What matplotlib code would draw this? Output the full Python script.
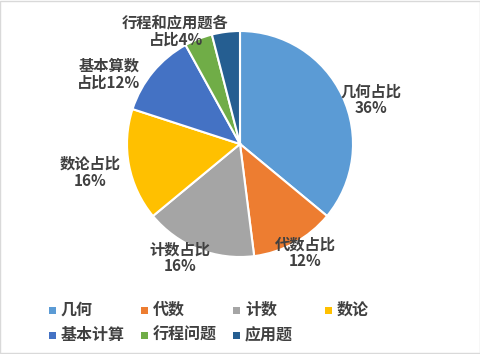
import matplotlib
matplotlib.use("Agg")
import matplotlib.pyplot as plt
from matplotlib.patches import Rectangle

plt.rcParams['font.family'] = ['Noto Sans CJK SC', 'DejaVu Sans']

# data
categories = ["几何", "代数", "计数", "数论", "基本计算", "行程问题", "应用题"]
shares = [36, 12, 16, 16, 12, 4, 4]
colors = ["#5B9BD5", "#ED7D31", "#A5A5A5", "#FFC000", "#4472C4", "#70AD47", "#255E91"]
label_texts = ["几何占比\n36%", "代数占比\n12%", "计数占比\n16%", "数论占比\n16%",
               "基本算数\n占比12%", "行程和应用题各\n占比4%"]
label_pos = [(1.16, 0.39), (0.58, -0.96), (-0.53, -1.01), (-1.33, -0.25),
             (-1.16, 0.62), (-0.57, 1.0)]

W, H = 481, 354
cx, cy, R = 240, 144, 113

fig = plt.figure(figsize=(W / 100, H / 100), dpi=100)
ax = fig.add_axes([0, 0, 1, 1])

ax.pie(shares, colors=colors, startangle=90, counterclock=False, radius=1,
       wedgeprops=dict(edgecolor="white", linewidth=1.5))
ax.set_xlim(-cx / R, (W - cx) / R)
ax.set_ylim(-(H - cy) / R, cy / R)
ax.set_aspect("auto")
ax.axis("off")

for txt, (x, y) in zip(label_texts, label_pos):
    ax.text(x, y, txt, ha="center", va="center", fontsize=11, fontweight="bold",
            color="#404040", linespacing=1.05)

# legend, 4 per row like Excel
for i, (name, c) in enumerate(zip(categories, colors)):
    col, row = i % 4, i // 4
    x0 = 49 + col * 92
    y0 = 310 + row * 25
    fig.add_artist(Rectangle((x0 / W, 1 - (y0 + 3.5) / H), 7 / W, 7 / H,
                             transform=fig.transFigure, facecolor=c, edgecolor="none"))
    fig.text((x0 + 12) / W, 1 - y0 / H, name, ha="left", va="center", fontsize=11.5,
             fontweight="bold", color="#404040")

fig.add_artist(Rectangle((0.001, 0.002), 0.997, 0.995, transform=fig.transFigure,
                         fill=False, edgecolor="#D9D9D9", linewidth=1))

fig.savefig("out.png", dpi=100)
